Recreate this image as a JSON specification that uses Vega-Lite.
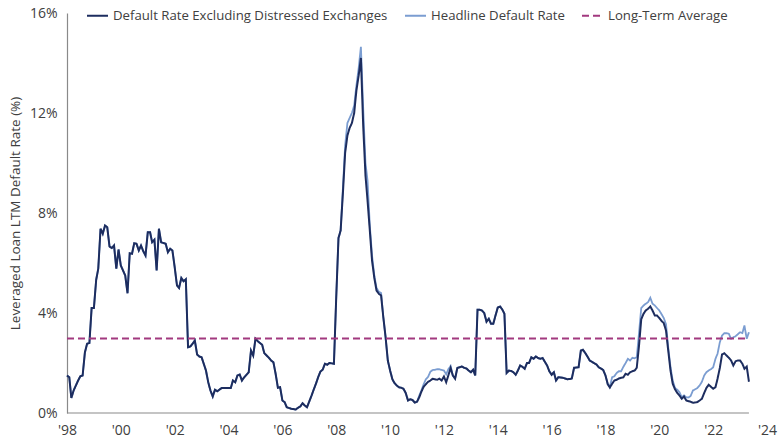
{
  "$schema": "https://vega.github.io/schema/vega-lite/v6.json",
  "width": 700,
  "height": 400,
  "autosize": {"type": "none"},
  "padding": {"left": 67, "top": 13, "right": 13, "bottom": 27},
  "config": {
    "view": {"stroke": null},
    "font": "Open Sans",
    "axis": {"labelFont": "Open Sans", "titleFont": "Open Sans", "labelColor": "#404040", "titleColor": "#404040", "grid": false, "ticks": false},
    "legend": {"labelFont": "Open Sans"}
  },
  "data": {
    "values": [
      {"d":"1998-01","ex":1.5,"hl":1.5},{"d":"1998-02","ex":1.43,"hl":1.43},{"d":"1998-03","ex":0.6,"hl":0.6},{"d":"1998-04","ex":0.9,"hl":0.9},{"d":"1998-06","ex":1.3,"hl":1.3},{"d":"1998-07","ex":1.47,"hl":1.47},{"d":"1998-08","ex":1.5,"hl":1.5},{"d":"1998-09","ex":2.43,"hl":2.43},{"d":"1998-10","ex":2.77,"hl":2.77},{"d":"1998-11","ex":2.8,"hl":2.8},{"d":"1998-12","ex":4.2,"hl":4.2},
      {"d":"1999-01","ex":4.2,"hl":4.2},{"d":"1999-02","ex":5.33,"hl":5.33},{"d":"1999-03","ex":5.77,"hl":5.77},{"d":"1999-04","ex":7.37,"hl":7.37},{"d":"1999-05","ex":7.17,"hl":7.17},{"d":"1999-06","ex":7.5,"hl":7.5},{"d":"1999-07","ex":7.43,"hl":7.43},{"d":"1999-08","ex":6.66,"hl":6.66},{"d":"1999-09","ex":6.6,"hl":6.6},{"d":"1999-10","ex":6.7,"hl":6.7},{"d":"1999-11","ex":5.77,"hl":5.77},{"d":"1999-12","ex":6.54,"hl":6.54},
      {"d":"2000-01","ex":5.9,"hl":5.9},{"d":"2000-03","ex":5.5,"hl":5.5},{"d":"2000-04","ex":4.79,"hl":4.79},{"d":"2000-05","ex":6.39,"hl":6.39},{"d":"2000-06","ex":6.37,"hl":6.37},{"d":"2000-07","ex":6.79,"hl":6.79},{"d":"2000-08","ex":6.77,"hl":6.77},{"d":"2000-09","ex":6.5,"hl":6.5},{"d":"2000-10","ex":6.7,"hl":6.7},{"d":"2000-11","ex":6.47,"hl":6.47},{"d":"2000-12","ex":6.3,"hl":6.3},
      {"d":"2001-01","ex":7.23,"hl":7.23},{"d":"2001-02","ex":7.23,"hl":7.23},{"d":"2001-03","ex":6.83,"hl":6.83},{"d":"2001-04","ex":6.93,"hl":6.93},{"d":"2001-05","ex":5.7,"hl":5.7},{"d":"2001-06","ex":7.37,"hl":7.37},{"d":"2001-07","ex":6.83,"hl":6.83},{"d":"2001-09","ex":6.77,"hl":6.77},{"d":"2001-10","ex":6.43,"hl":6.43},{"d":"2001-11","ex":6.57,"hl":6.57},{"d":"2001-12","ex":6.5,"hl":6.5},
      {"d":"2002-01","ex":5.83,"hl":5.83},{"d":"2002-02","ex":5.1,"hl":5.1},{"d":"2002-03","ex":5.0,"hl":5.0},{"d":"2002-04","ex":5.4,"hl":5.4},{"d":"2002-05","ex":5.27,"hl":5.27},{"d":"2002-06","ex":5.35,"hl":5.35},{"d":"2002-07","ex":2.63,"hl":2.63},{"d":"2002-08","ex":2.66,"hl":2.66},{"d":"2002-09","ex":2.77,"hl":2.77},{"d":"2002-10","ex":2.9,"hl":2.9},{"d":"2002-11","ex":2.34,"hl":2.34},{"d":"2002-12","ex":2.26,"hl":2.26},
      {"d":"2003-01","ex":2.23,"hl":2.23},{"d":"2003-03","ex":1.7,"hl":1.7},{"d":"2003-04","ex":1.23,"hl":1.23},{"d":"2003-05","ex":0.9,"hl":0.9},{"d":"2003-06","ex":0.66,"hl":0.66},{"d":"2003-07","ex":0.93,"hl":0.93},{"d":"2003-08","ex":0.87,"hl":0.87},{"d":"2003-10","ex":1.0,"hl":1.0},
      {"d":"2004-02","ex":1.0,"hl":1.0},{"d":"2004-03","ex":1.3,"hl":1.3},{"d":"2004-04","ex":1.23,"hl":1.23},{"d":"2004-05","ex":1.5,"hl":1.5},{"d":"2004-06","ex":1.54,"hl":1.54},{"d":"2004-07","ex":1.3,"hl":1.3},{"d":"2004-08","ex":1.43,"hl":1.43},{"d":"2004-10","ex":1.63,"hl":1.63},{"d":"2004-11","ex":2.5,"hl":2.5},{"d":"2004-12","ex":2.3,"hl":2.3},
      {"d":"2005-01","ex":2.97,"hl":2.97},{"d":"2005-02","ex":2.87,"hl":2.87},{"d":"2005-04","ex":2.73,"hl":2.73},{"d":"2005-05","ex":2.39,"hl":2.39},{"d":"2005-06","ex":2.3,"hl":2.3},{"d":"2005-07","ex":2.21,"hl":2.21},{"d":"2005-08","ex":2.1,"hl":2.1},{"d":"2005-09","ex":2.03,"hl":2.03},{"d":"2005-10","ex":1.57,"hl":1.57},{"d":"2005-11","ex":1.01,"hl":1.01},{"d":"2005-12","ex":1.03,"hl":1.03},
      {"d":"2006-01","ex":0.5,"hl":0.5},{"d":"2006-02","ex":0.43,"hl":0.43},{"d":"2006-03","ex":0.23,"hl":0.23},{"d":"2006-05","ex":0.17,"hl":0.17},{"d":"2006-07","ex":0.14,"hl":0.14},{"d":"2006-08","ex":0.21,"hl":0.21},{"d":"2006-09","ex":0.26,"hl":0.26},{"d":"2006-10","ex":0.39,"hl":0.39},{"d":"2006-11","ex":0.3,"hl":0.3},{"d":"2006-12","ex":0.23,"hl":0.23},
      {"d":"2007-02","ex":0.7,"hl":0.7},{"d":"2007-03","ex":0.93,"hl":0.93},{"d":"2007-04","ex":1.17,"hl":1.17},{"d":"2007-05","ex":1.43,"hl":1.43},{"d":"2007-06","ex":1.66,"hl":1.66},{"d":"2007-07","ex":1.73,"hl":1.73},{"d":"2007-08","ex":1.97,"hl":1.97},{"d":"2007-09","ex":1.93,"hl":1.93},{"d":"2007-10","ex":2.0,"hl":2.0},{"d":"2007-12","ex":1.97,"hl":1.97},
      {"d":"2008-01","ex":4.6,"hl":4.6},{"d":"2008-02","ex":7.0,"hl":7.0},{"d":"2008-03","ex":7.3,"hl":7.3},{"d":"2008-04","ex":8.8,"hl":9.0},{"d":"2008-05","ex":10.4,"hl":10.7},{"d":"2008-06","ex":11.1,"hl":11.6},{"d":"2008-07","ex":11.4,"hl":11.8},{"d":"2008-08","ex":11.6,"hl":12.0},{"d":"2008-09","ex":12.0,"hl":12.3},{"d":"2008-10","ex":12.9,"hl":13.1},{"d":"2008-11","ex":13.5,"hl":13.8},{"d":"2008-12","ex":14.2,"hl":14.65},
      {"d":"2009-01","ex":11.5,"hl":12.2},{"d":"2009-02","ex":9.5,"hl":10.0},{"d":"2009-03","ex":8.5,"hl":9.3},{"d":"2009-04","ex":7.3,"hl":7.5},{"d":"2009-05","ex":6.1,"hl":6.3},{"d":"2009-06","ex":5.4,"hl":5.5},{"d":"2009-07","ex":4.9,"hl":5.0},{"d":"2009-08","ex":4.77,"hl":4.85},{"d":"2009-09","ex":4.7,"hl":4.8},{"d":"2009-10","ex":3.83,"hl":3.83},{"d":"2009-11","ex":3.03,"hl":3.03},{"d":"2009-12","ex":2.1,"hl":2.1},
      {"d":"2010-01","ex":1.7,"hl":1.7},{"d":"2010-02","ex":1.35,"hl":1.35},{"d":"2010-03","ex":1.2,"hl":1.2},{"d":"2010-04","ex":1.1,"hl":1.1},{"d":"2010-05","ex":1.03,"hl":1.03},{"d":"2010-06","ex":1.01,"hl":1.01},{"d":"2010-07","ex":0.97,"hl":0.97},{"d":"2010-08","ex":0.8,"hl":0.8},{"d":"2010-09","ex":0.5,"hl":0.5},{"d":"2010-10","ex":0.55,"hl":0.55},{"d":"2010-11","ex":0.52,"hl":0.52},{"d":"2010-12","ex":0.42,"hl":0.42},
      {"d":"2011-01","ex":0.45,"hl":0.45},{"d":"2011-02","ex":0.63,"hl":0.7},{"d":"2011-03","ex":0.85,"hl":0.9},{"d":"2011-04","ex":1.05,"hl":1.15},{"d":"2011-05","ex":1.15,"hl":1.35},{"d":"2011-06","ex":1.25,"hl":1.45},{"d":"2011-07","ex":1.3,"hl":1.65},{"d":"2011-08","ex":1.37,"hl":1.72},{"d":"2011-09","ex":1.35,"hl":1.73},{"d":"2011-10","ex":1.33,"hl":1.75},{"d":"2011-11","ex":1.37,"hl":1.75},{"d":"2011-12","ex":1.3,"hl":1.72},
      {"d":"2012-01","ex":1.46,"hl":1.7},{"d":"2012-02","ex":1.23,"hl":1.55},{"d":"2012-03","ex":1.5,"hl":1.75},{"d":"2012-04","ex":1.8,"hl":1.88},{"d":"2012-05","ex":1.5,"hl":1.5},{"d":"2012-06","ex":1.37,"hl":1.4},{"d":"2012-07","ex":1.8,"hl":1.8},{"d":"2012-08","ex":1.83,"hl":1.83},{"d":"2012-09","ex":1.86,"hl":1.86},{"d":"2012-10","ex":1.81,"hl":1.81},{"d":"2012-11","ex":1.78,"hl":1.78},{"d":"2012-12","ex":1.7,"hl":1.7},
      {"d":"2013-01","ex":1.63,"hl":1.63},{"d":"2013-02","ex":1.73,"hl":1.73},{"d":"2013-03","ex":1.5,"hl":1.5},{"d":"2013-04","ex":4.13,"hl":4.13},{"d":"2013-05","ex":4.13,"hl":4.13},{"d":"2013-06","ex":4.1,"hl":4.1},{"d":"2013-07","ex":4.0,"hl":4.0},{"d":"2013-08","ex":3.65,"hl":3.65},{"d":"2013-09","ex":3.77,"hl":3.77},{"d":"2013-10","ex":3.57,"hl":3.57},{"d":"2013-11","ex":3.57,"hl":3.57},{"d":"2013-12","ex":3.9,"hl":3.9},
      {"d":"2014-01","ex":4.22,"hl":4.22},{"d":"2014-02","ex":4.26,"hl":4.26},{"d":"2014-03","ex":4.15,"hl":4.15},{"d":"2014-04","ex":3.97,"hl":3.97},{"d":"2014-05","ex":1.6,"hl":1.6},{"d":"2014-06","ex":1.7,"hl":1.7},{"d":"2014-07","ex":1.68,"hl":1.68},{"d":"2014-08","ex":1.63,"hl":1.63},{"d":"2014-09","ex":1.53,"hl":1.53},{"d":"2014-10","ex":1.7,"hl":1.7},{"d":"2014-11","ex":1.9,"hl":1.9},{"d":"2014-12","ex":1.85,"hl":1.85},
      {"d":"2015-01","ex":1.77,"hl":1.77},{"d":"2015-02","ex":2.0,"hl":2.0},{"d":"2015-03","ex":2.0,"hl":2.0},{"d":"2015-04","ex":2.23,"hl":2.23},{"d":"2015-05","ex":2.17,"hl":2.17},{"d":"2015-06","ex":2.26,"hl":2.26},{"d":"2015-07","ex":2.2,"hl":2.2},{"d":"2015-08","ex":2.17,"hl":2.17},{"d":"2015-09","ex":2.2,"hl":2.2},{"d":"2015-10","ex":2.05,"hl":2.05},{"d":"2015-11","ex":1.9,"hl":1.9},{"d":"2015-12","ex":1.67,"hl":1.67},
      {"d":"2016-01","ex":1.53,"hl":1.53},{"d":"2016-02","ex":1.63,"hl":1.63},{"d":"2016-03","ex":1.3,"hl":1.3},{"d":"2016-04","ex":1.43,"hl":1.43},{"d":"2016-05","ex":1.42,"hl":1.42},{"d":"2016-06","ex":1.41,"hl":1.41},{"d":"2016-07","ex":1.38,"hl":1.38},{"d":"2016-08","ex":1.35,"hl":1.35},{"d":"2016-09","ex":1.36,"hl":1.36},{"d":"2016-10","ex":1.38,"hl":1.38},{"d":"2016-11","ex":1.81,"hl":1.81},{"d":"2016-12","ex":1.82,"hl":1.82},
      {"d":"2017-01","ex":1.83,"hl":1.83},{"d":"2017-02","ex":2.5,"hl":2.5},{"d":"2017-03","ex":2.53,"hl":2.53},{"d":"2017-04","ex":2.4,"hl":2.4},{"d":"2017-05","ex":2.26,"hl":2.26},{"d":"2017-06","ex":2.1,"hl":2.1},{"d":"2017-07","ex":2.05,"hl":2.05},{"d":"2017-08","ex":1.99,"hl":1.99},{"d":"2017-09","ex":1.94,"hl":1.94},{"d":"2017-10","ex":1.83,"hl":1.83},{"d":"2017-11","ex":1.78,"hl":1.78},{"d":"2017-12","ex":1.72,"hl":1.72},
      {"d":"2018-01","ex":1.5,"hl":1.5},{"d":"2018-02","ex":1.15,"hl":1.15},{"d":"2018-03","ex":1.02,"hl":1.05},{"d":"2018-04","ex":1.17,"hl":1.43},{"d":"2018-05","ex":1.3,"hl":1.47},{"d":"2018-06","ex":1.33,"hl":1.6},{"d":"2018-07","ex":1.38,"hl":1.67},{"d":"2018-08","ex":1.41,"hl":1.67},{"d":"2018-09","ex":1.43,"hl":1.85},{"d":"2018-10","ex":1.57,"hl":2.0},{"d":"2018-11","ex":1.53,"hl":2.17},{"d":"2018-12","ex":1.63,"hl":2.1},
      {"d":"2019-01","ex":1.67,"hl":2.21},{"d":"2019-02","ex":1.7,"hl":2.19},{"d":"2019-03","ex":1.81,"hl":2.23},{"d":"2019-04","ex":2.7,"hl":3.2},{"d":"2019-05","ex":3.75,"hl":4.2},{"d":"2019-06","ex":3.97,"hl":4.3},{"d":"2019-07","ex":4.1,"hl":4.37},{"d":"2019-08","ex":4.17,"hl":4.43},{"d":"2019-09","ex":4.26,"hl":4.61},{"d":"2019-10","ex":4.1,"hl":4.37},{"d":"2019-11","ex":3.9,"hl":4.3},{"d":"2019-12","ex":3.9,"hl":4.2},
      {"d":"2020-01","ex":3.8,"hl":4.1},{"d":"2020-02","ex":3.68,"hl":3.95},{"d":"2020-03","ex":3.6,"hl":3.8},{"d":"2020-04","ex":3.3,"hl":3.55},{"d":"2020-05","ex":2.5,"hl":2.63},{"d":"2020-06","ex":1.7,"hl":1.83},{"d":"2020-07","ex":1.17,"hl":1.3},{"d":"2020-08","ex":0.95,"hl":1.0},{"d":"2020-09","ex":0.8,"hl":0.93},{"d":"2020-10","ex":0.7,"hl":0.83},{"d":"2020-11","ex":0.57,"hl":0.63},{"d":"2020-12","ex":0.66,"hl":0.7},
      {"d":"2021-01","ex":0.5,"hl":0.63},{"d":"2021-02","ex":0.47,"hl":0.62},{"d":"2021-03","ex":0.45,"hl":0.68},{"d":"2021-04","ex":0.41,"hl":0.9},{"d":"2021-05","ex":0.42,"hl":0.95},{"d":"2021-06","ex":0.44,"hl":1.0},{"d":"2021-07","ex":0.5,"hl":1.1},{"d":"2021-08","ex":0.57,"hl":1.25},{"d":"2021-09","ex":0.8,"hl":1.5},{"d":"2021-10","ex":1.0,"hl":1.63},{"d":"2021-11","ex":1.13,"hl":1.7},{"d":"2021-12","ex":1.05,"hl":1.75},
      {"d":"2022-01","ex":0.97,"hl":1.83},{"d":"2022-02","ex":1.03,"hl":2.17},{"d":"2022-03","ex":1.37,"hl":2.37},{"d":"2022-04","ex":1.8,"hl":2.83},{"d":"2022-05","ex":2.34,"hl":3.1},{"d":"2022-06","ex":2.39,"hl":3.19},{"d":"2022-07","ex":2.3,"hl":3.19},{"d":"2022-08","ex":2.21,"hl":3.17},{"d":"2022-09","ex":2.1,"hl":2.97},{"d":"2022-10","ex":1.9,"hl":3.03},{"d":"2022-11","ex":2.07,"hl":3.07},{"d":"2022-12","ex":2.1,"hl":3.15},
      {"d":"2023-01","ex":2.1,"hl":3.23},{"d":"2023-02","ex":1.97,"hl":3.2},{"d":"2023-03","ex":1.77,"hl":3.5},{"d":"2023-04","ex":1.86,"hl":2.97},{"d":"2023-05","ex":1.25,"hl":3.23}
    ]
  },
  "layer": [
    {
      "data": {"values": [{"d": "1998-01", "base": 0}, {"d": "2023-05", "base": 0}]},
      "mark": {"type": "line", "color": "#8a8a8a", "strokeWidth": 1.2},
      "encoding": {
        "x": {"field": "d", "type": "temporal"},
        "y": {"field": "base", "type": "quantitative"}
      }
    },
    {
      "transform": [{"fold": ["hl"]}],
      "mark": {"type": "line", "strokeWidth": 1.8},
      "encoding": {
        "x": {"field": "d", "type": "temporal"},
        "y": {"field": "value", "type": "quantitative"},
        "color": {"field": "key", "type": "nominal"},
        "strokeDash": {"field": "key", "type": "nominal"}
      }
    },
    {
      "transform": [{"fold": ["ex"]}],
      "mark": {"type": "line", "strokeWidth": 2},
      "encoding": {
        "x": {"field": "d", "type": "temporal"},
        "y": {"field": "value", "type": "quantitative"},
        "color": {"field": "key", "type": "nominal"},
        "strokeDash": {"field": "key", "type": "nominal"}
      }
    },
    {
      "data": {"values": [{"d": "1998-01", "lt": 2.98}, {"d": "2023-05", "lt": 2.98}]},
      "transform": [{"fold": ["lt"]}],
      "mark": {"type": "line", "strokeWidth": 2},
      "encoding": {
        "x": {"field": "d", "type": "temporal"},
        "y": {"field": "value", "type": "quantitative"},
        "color": {"field": "key", "type": "nominal"},
        "strokeDash": {"field": "key", "type": "nominal"}
      }
    }
  ],
  "encoding": {
    "x": {
      "field": "d", "type": "temporal", "title": null,
      "scale": {"type": "utc", "domain": [{"year": 1998, "month": 1, "date": 1, "utc": true}, {"year": 2024, "month": 1, "date": 1, "utc": true}]},
      "axis": {
        "domain": false, "labelFontSize": 14, "labelPadding": 10, "labelFlush": false, "labelOverlap": false, "labelBound": false,
        "labelExpr": "\"'\" + utcFormat(datum.value, '%y')",
        "values": [{"year":1998,"utc":true},{"year":2000,"utc":true},{"year":2002,"utc":true},{"year":2004,"utc":true},{"year":2006,"utc":true},{"year":2008,"utc":true},{"year":2010,"utc":true},{"year":2012,"utc":true},{"year":2014,"utc":true},{"year":2016,"utc":true},{"year":2018,"utc":true},{"year":2020,"utc":true},{"year":2022,"utc":true},{"year":2024,"utc":true}]
      }
    },
    "y": {
      "type": "quantitative",
      "scale": {"domain": [0, 16], "nice": false},
      "axis": {
        "title": "Leveraged Loan LTM Default Rate (%)", "titleFontSize": 13.5, "titleFontWeight": "normal", "titlePadding": 7,
        "values": [0, 4, 8, 12, 16], "labelExpr": "datum.value + '%'", "labelFontSize": 14, "labelPadding": 10,
        "domainColor": "#8a8a8a", "domainWidth": 1.2
      }
    },
    "color": {
      "scale": {"domain": ["ex", "hl", "lt"], "range": ["#1d2d5f", "#7b9dd1", "#a2397f"]},
      "legend": {
        "title": null, "orient": "none", "legendX": 19, "legendY": -9, "direction": "horizontal", "padding": 0,
        "symbolType": "stroke", "symbolSize": 441, "symbolStrokeWidth": 2, "labelFontSize": 13.2, "labelColor": "#404040",
        "labelOffset": 4, "columnPadding": 13, "labelLimit": 400,
        "labelExpr": "datum.label == 'ex' ? 'Default Rate Excluding Distressed Exchanges' : datum.label == 'hl' ? 'Headline Default Rate' : 'Long-Term Average'"
      }
    },
    "strokeDash": {
      "scale": {"domain": ["ex", "hl", "lt"], "range": [[1, 0], [1, 0], [7, 4]]},
      "legend": {
        "title": null, "orient": "none", "legendX": 19, "legendY": -9, "direction": "horizontal", "padding": 0,
        "symbolType": "stroke", "symbolSize": 441, "symbolStrokeWidth": 2, "labelFontSize": 13.2, "labelColor": "#404040",
        "labelOffset": 4, "columnPadding": 13, "labelLimit": 400,
        "labelExpr": "datum.label == 'ex' ? 'Default Rate Excluding Distressed Exchanges' : datum.label == 'hl' ? 'Headline Default Rate' : 'Long-Term Average'"
      }
    }
  }
}
